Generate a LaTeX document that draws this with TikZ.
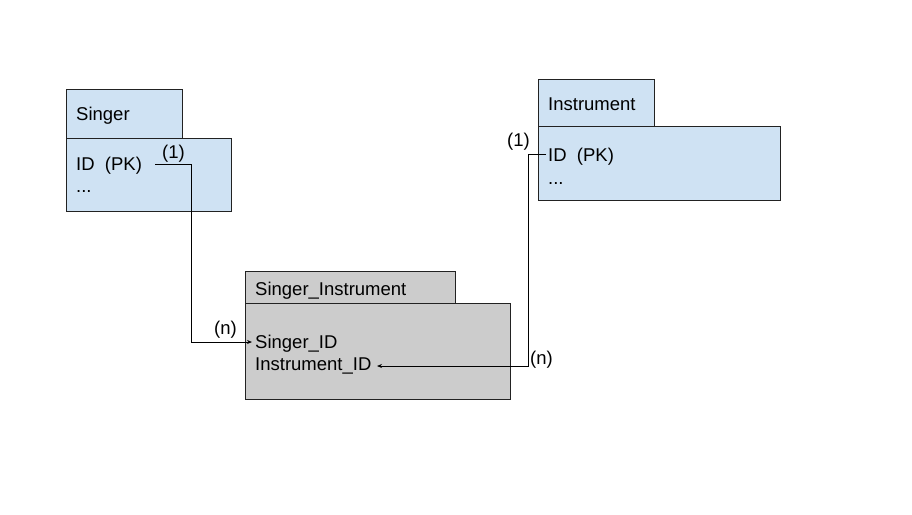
\documentclass[tikz,border=0pt]{standalone}
\usepackage{fontspec}
\setmainfont{Liberation Sans}
\usetikzlibrary{arrows.meta}
\definecolor{bluefill}{HTML}{CFE2F3}
\definecolor{grayfill}{HTML}{CCCCCC}
\definecolor{edge}{HTML}{222222}
\begin{document}
\begin{tikzpicture}[x=1pt,y=-1pt,
  box/.style={draw=edge,line width=1pt,anchor=north west,inner sep=0pt,outer sep=0pt},
  lbl/.style={anchor=base west,inner sep=0pt,font=\fontsize{18.5}{21}\selectfont},
  conn/.style={draw=black,line width=0.9pt},
  tip/.style={-{Stealth[length=5pt,width=4pt]}}]
\useasboundingbox (0,0) rectangle (912,514);
% Singer
\node[box,fill=bluefill,minimum width=116pt,minimum height=49pt] (stab) at (66,89) {};
\node[box,fill=bluefill,minimum width=165pt,minimum height=73pt] (sbox) at (66,138) {};
\node[lbl] (sname) at (76,120) {Singer};
\node[lbl] (spk) at (76,170) {ID\ \ (PK)};
\node[lbl] (sdots) at (76,192) {...};
\node[lbl] (sone) at (162,158) {(1)};
% Instrument
\node[box,fill=bluefill,minimum width=116pt,minimum height=47pt] (itab) at (538,79) {};
\node[box,fill=bluefill,minimum width=242pt,minimum height=74pt] (ibox) at (538,126) {};
\node[lbl] (iname) at (548,110) {Instrument};
\node[lbl] (ipk) at (548,161) {ID\ \ (PK)};
\node[lbl] (idots) at (548,184) {...};
\node[lbl] (ione) at (507,146) {(1)};
% Singer_Instrument
\node[box,fill=grayfill,minimum width=210pt,minimum height=32pt] (jtab) at (245,271) {};
\node[box,fill=grayfill,minimum width=265pt,minimum height=96pt] (jbox) at (245,303) {};
\node[lbl] (jname) at (255,295) {Singer\_Instrument};
\node[lbl] (jsid) at (255,348) {Singer\_ID};
\node[lbl] (jiid) at (255,370) {Instrument\_ID};
\node[lbl] (jn1) at (214,334) {(n)};
\node[lbl] (jn2) at (530,364) {(n)};
% connectors
\coordinate (s0) at (155,164);
\coordinate (s1) at (191,164);
\coordinate (s2) at (191,342);
\coordinate (s3) at (252,342);
\draw[conn,tip] (s0) -- (s1) -- (s2) -- (s3);
\coordinate (i0) at (546,154);
\coordinate (i1) at (528,154);
\coordinate (i2) at (528,366);
\coordinate (i3) at (377,366);
\draw[conn,tip] (i0) -- (i1) -- (i2) -- (i3);
\end{tikzpicture}
\end{document}
